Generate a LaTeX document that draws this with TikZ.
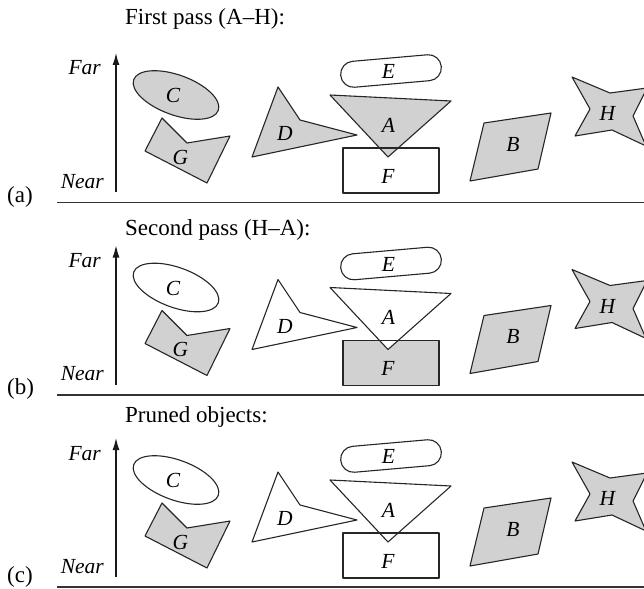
\documentclass[tikz,border=0pt]{standalone}
\usepackage{fontspec}
\setmainfont{Liberation Serif}
\usetikzlibrary{arrows.meta}
\colorlet{objgray}{black!18}
\tikzset{
  shp/.style={draw=black!85, line width=1.1pt, line join=round},
  lbl/.style={font=\fontsize{21.5}{25}\selectfont\itshape, inner sep=0pt},
  ttl/.style={font=\fontsize{23}{27}\selectfont, inner sep=0pt, anchor=base west},
  axis/.style={line width=1.2pt, draw=black!90, -{Latex[length=12pt,width=7pt]}},
  baserule/.style={line width=1.4pt, draw=black!80},
}
% #1 vertical shift, #2 suffix, #3 C fill, #4 G fill, #5 D fill, #6 A fill, #7 F fill
\newcommand\drawpanel[7]{%
\begin{scope}[shift={(0,#1)}]
  \coordinate (bot#2) at (116,192);
  \coordinate (top#2) at (116,53);
  \draw[axis] (bot#2) -- (top#2);
  \node[lbl, anchor=base east] (far#2) at (101,75) {Far};
  \node[lbl, anchor=base east] (near#2) at (104,188) {Near};
  % C
  \path[shp, fill=#3, shift={(176,95)}, rotate=-20] (0,0) ellipse [x radius=45pt, y radius=20pt];
  % G
  \path[shp, fill=#4] (162,118) -- (187,143) -- (230,136) -- (207,183) -- (145,151) -- cycle;
  % D
  \path[shp, fill=#5] (278,87) -- (300,120) -- (357,135) -- (252,157) -- cycle;
  % E
  \path[shp, fill=white, shift={(391,71)}, rotate=5, rounded corners=12.9pt] (-50.5pt,-13pt) rectangle (50.5pt,13pt);
  % F and A
  \fill[fill=#7] (343,148) rectangle (439,193);
  \fill[fill=#6] (330,95) -- (451,101) -- (388,157) -- cycle;
  \draw[shp] (343,148) rectangle (439,193);
  \draw[shp] (330,95) -- (451,101) -- (388,157) -- cycle;
  % B
  \path[shp, fill=objgray] (484,123) -- (551,113) -- (538,169) -- (470,181) -- cycle;
  % H
  \path[shp, fill=objgray] (572,77) -- (610,93) -- (647,88) -- (633,116) -- (646,146) -- (612,130) -- (575,136) -- (590,109) -- cycle;
  % labels
  \node[lbl] (C#2) at (173,95.5) {C};
  \node[lbl] (G#2) at (180.5,157) {G};
  \node[lbl] (D#2) at (285,133.5) {D};
  \node[lbl] (E#2) at (388.5,71.5) {E};
  \node[lbl] (A#2) at (388.5,125) {A};
  \node[lbl] (F#2) at (388,176) {F};
  \node[lbl] (B#2) at (513,144) {B};
  \node[lbl] (H#2) at (607.5,113.5) {H};
\end{scope}}

\begin{document}
\begin{tikzpicture}[x=1pt, y=-1pt]
  \useasboundingbox (0,0) rectangle (644,588);
  \clip (0,0) rectangle (644,588);

  \node[ttl] (t1) at (125,25) {First pass (A–H):};
  \node[ttl] (t2) at (125,235) {Second pass (H–A):};
  \node[ttl] (t3) at (125,422) {Pruned objects:};

  \drawpanel{0}{a}{objgray}{objgray}{objgray}{objgray}{white}
  \drawpanel{192.5}{b}{white}{objgray}{white}{white}{objgray}
  \drawpanel{385}{c}{white}{objgray}{white}{white}{white}

  \coordinate (la) at (57,202.5);  \coordinate (ra) at (644,202.5);
  \coordinate (lb) at (57,395);    \coordinate (rb) at (644,395);
  \coordinate (lc) at (57,586.8);  \coordinate (rc) at (644,586.8);
  \draw[baserule] (la) -- (ra);
  \draw[baserule] (lb) -- (rb);
  \draw[baserule] (lc) -- (rc);

  \node[ttl] (pa) at (7,202) {(a)};
  \node[ttl] (pb) at (7,394.5) {(b)};
  \node[ttl] (pc) at (7,582) {(c)};
\end{tikzpicture}
\end{document}
